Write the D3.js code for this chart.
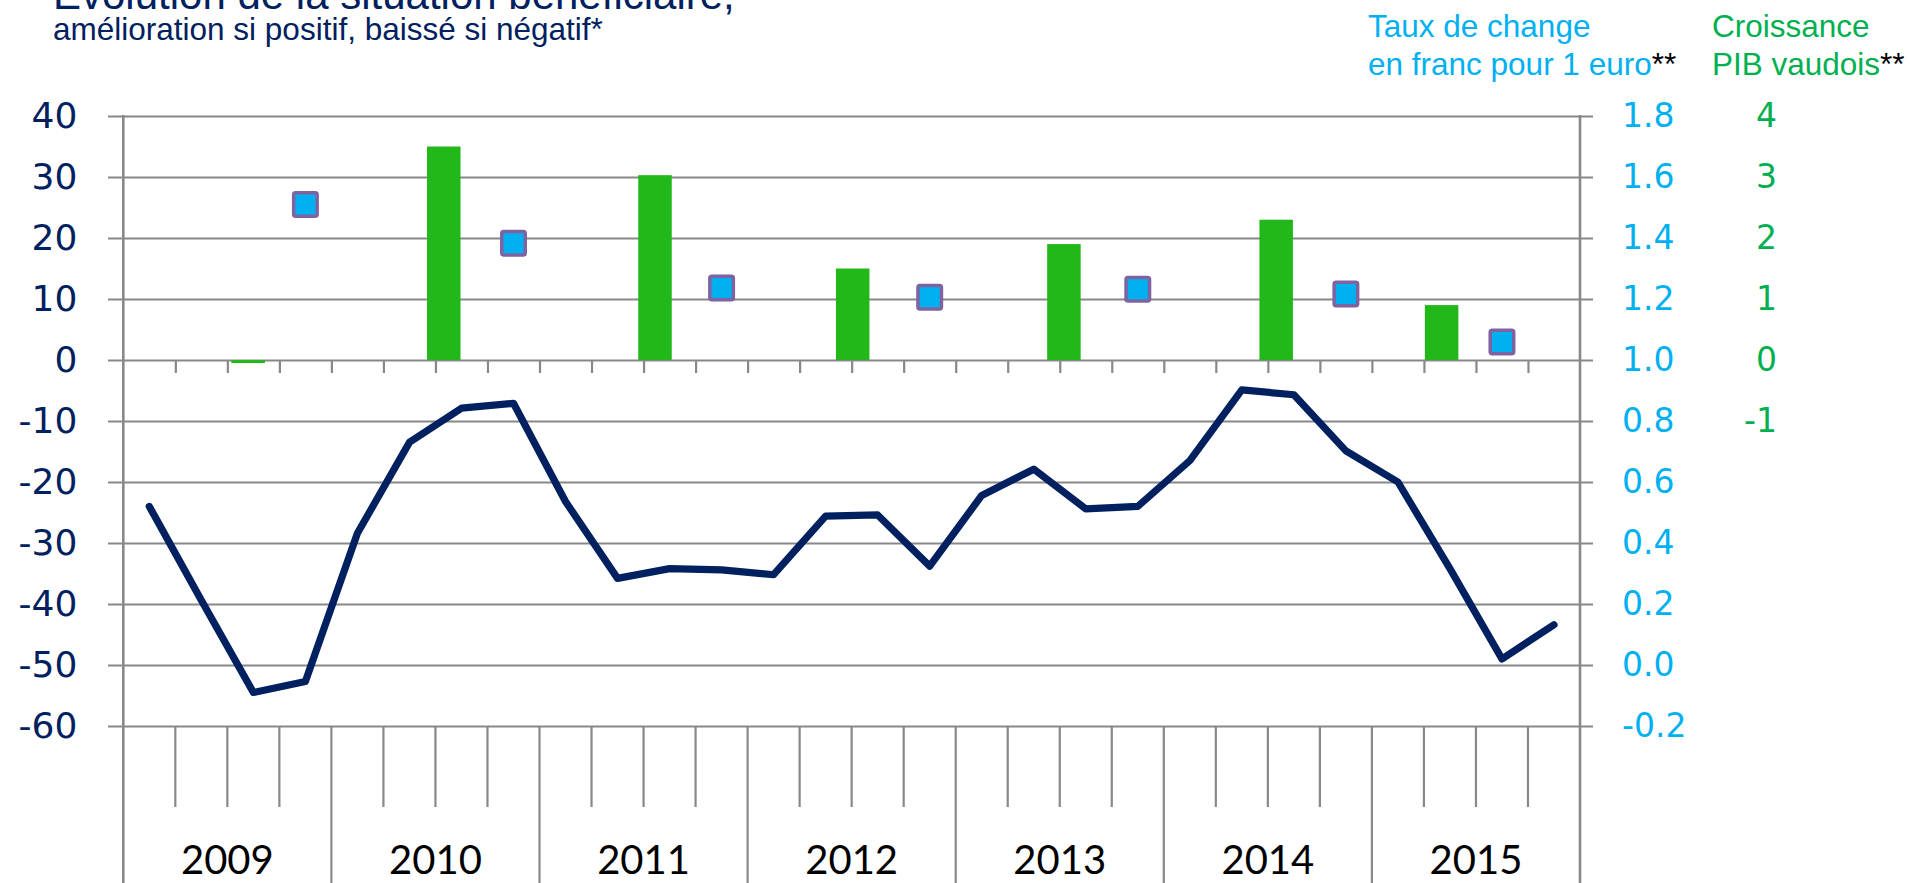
<!DOCTYPE html>
<html>
<head>
<meta charset="utf-8">
<script src="https://cdn.jsdelivr.net/npm/d3@7"></script>
<style>
  html, body { margin: 0; padding: 0; background: #fff; }
  svg { display: block; }
</style>
</head>
<body>
<svg id="chart" width="1910" height="883"></svg>
<script>
// ---------- DATA ----------
const years = [2009, 2010, 2011, 2012, 2013, 2014, 2015];
const quarters = ["T1", "T2", "T3", "T4"];
// Evolution de la situation bénéficiaire (solde, quarterly)
const resultValues = [
  -24.0, -39.4, -54.5, -52.7,
  -28.4, -13.5,  -7.9,  -7.1,
  -23.2, -35.8, -34.2, -34.4,
  -35.2, -25.6, -25.4, -33.8,
  -22.2, -17.9, -24.4, -24.0,
  -16.5,  -4.9,  -5.7, -14.9,
  -20.0, -34.2, -49.0, -43.4
];
// Taux de change CHF pour 1 EUR
const fxQuarter = ["2009-T4", "2010-T4", "2011-T4", "2012-T4", "2013-T4", "2014-T4", "2015-T3"];
const fxValues = [1.51, 1.383, 1.236, 1.206, 1.232, 1.216, 1.059];
// Croissance PIB vaudois (%), placed at fractional year positions
const gdpPosition = [2009.60, 2010.54, 2011.555, 2012.505, 2013.52, 2014.54, 2015.335];
const gdpValues = [-0.05, 3.5, 3.03, 1.5, 1.9, 2.3, 0.9];
// Tick labels
const leftTicks = [-60, -50, -40, -30, -20, -10, 0, 10, 20, 30, 40];
const fxTicks = [-0.2, 0.0, 0.2, 0.4, 0.6, 0.8, 1.0, 1.2, 1.4, 1.6, 1.8];
const gdpTicks = [-1, 0, 1, 2, 3, 4];

// ---------- LAYOUT ----------
const svg = d3.select("#chart");
const x0 = 123.3, x1 = 1580, yTop = 116, yBot = 726;
const gridColor = "#888888";
const navy = "#002060", blue = "#00B0F0", green = "#00B050", barGreen = "#22B81A";
const tickFont = "'DejaVu Sans', Verdana, sans-serif";
const arial = "'Liberation Sans', Arial, sans-serif";
const hy = f => (d => f(d).replace("\u2212", "-"));

const quarterKeys = years.flatMap(y => quarters.map(q => `${y}-${q}`));
const xBand = d3.scaleBand().domain(quarterKeys).range([x0, x1]).padding(0);
const xTime = d3.scaleLinear().domain([years[0], years[years.length - 1] + 1]).range([x0, x1]);
const yL = d3.scaleLinear().domain([-60, 40]).range([yBot, yTop]);
const yFx = d3.scaleLinear().domain([-0.2, 1.8]).range([yBot, yTop]);
const yG = d3.scaleLinear().domain([-6, 4]).range([yBot, yTop]);

// ---------- GRIDLINES ----------
const grid = svg.append("g").attr("transform", `translate(108,0)`)
  .call(d3.axisRight(yL).tickValues(leftTicks).tickSize(1593 - 108).tickFormat(""));
grid.select(".domain").remove();
grid.selectAll("line").attr("stroke", gridColor).attr("stroke-width", 2.2);

// vertical axis lines
[x0, x1].forEach(x => {
  svg.append("line").attr("x1", x).attr("x2", x).attr("y1", yTop - 1).attr("y2", 883)
    .attr("stroke", gridColor).attr("stroke-width", 2.6);
});

// quarter ticks on zero line
const qBounds = d3.range(1, quarterKeys.length).map(k => xBand(quarterKeys[k]));
const zeroAxis = svg.append("g").attr("transform", `translate(0,${yL(0)})`)
  .call(d3.axisBottom(xTime).tickValues(qBounds.map(v => xTime.invert(v))).tickSize(13).tickSizeOuter(0).tickFormat(""));
zeroAxis.select(".domain").remove();
zeroAxis.selectAll("line").attr("stroke", gridColor).attr("stroke-width", 2.2);

// lower category area lines
const lower = svg.append("g");
qBounds.forEach((x, i) => {
  const isYear = (i + 1) % 4 === 0;
  lower.append("line").attr("x1", x).attr("x2", x)
    .attr("y1", yBot).attr("y2", isYear ? 883 : 807)
    .attr("stroke", gridColor).attr("stroke-width", 2.2);
});

// year labels
svg.append("g").selectAll("text").data(years).join("text")
  .attr("x", d => xTime(d + 0.5)).attr("y", 874)
  .attr("text-anchor", "middle")
  .attr("font-family", "Lato, 'Open Sans', sans-serif").attr("font-size", 40)
  .attr("fill", "#000").text(d => d);

// ---------- LEFT AXIS LABELS ----------
const la = svg.append("g").attr("transform", `translate(${x0},0)`)
  .call(d3.axisLeft(yL).tickValues(leftTicks).tickSize(0).tickPadding(46).tickFormat(hy(d3.format("d"))));
la.select(".domain").remove();
la.selectAll("text").attr("font-family", tickFont).attr("font-size", 36).attr("fill", navy);

// ---------- RIGHT AXES ----------
const ra = svg.append("g").attr("transform", `translate(${x1},0)`)
  .call(d3.axisRight(yFx).tickValues(fxTicks).tickSize(0).tickPadding(42).tickFormat(hy(d3.format(".1f"))));
ra.select(".domain").remove();
ra.selectAll("text").attr("font-family", tickFont).attr("font-size", 33).attr("fill", blue);

const ga = svg.append("g").attr("transform", `translate(1777,0)`)
  .call(d3.axisLeft(yG).tickValues(gdpTicks).tickSize(0).tickPadding(0).tickFormat(hy(d3.format("d"))));
ga.select(".domain").remove();
ga.selectAll("text").attr("font-family", tickFont).attr("font-size", 33).attr("fill", green);

// ---------- BARS ----------
const barW = 33.5;
svg.append("g").selectAll("rect").data(gdpValues).join("rect")
  .attr("x", (d, i) => xTime(gdpPosition[i]) - barW / 2)
  .attr("y", d => Math.min(yG(d), yG(0)))
  .attr("width", barW)
  .attr("height", d => Math.max(2, Math.abs(yG(d) - yG(0))))
  .attr("fill", barGreen);

// ---------- LINE ----------
const line = d3.line()
  .x((d, i) => xBand(quarterKeys[i]) + xBand.bandwidth() / 2)
  .y(d => yL(d));
svg.append("path").datum(resultValues)
  .attr("d", line).attr("fill", "none")
  .attr("stroke", navy).attr("stroke-width", 7.2)
  .attr("stroke-linejoin", "round").attr("stroke-linecap", "round");

// ---------- SQUARES ----------
const sq = 23.5;
svg.append("g").selectAll("rect").data(fxValues).join("rect")
  .attr("x", (d, i) => xBand(fxQuarter[i]) + xBand.bandwidth() / 2 - sq / 2)
  .attr("y", d => yFx(d) - sq / 2)
  .attr("width", sq).attr("height", sq).attr("rx", 2)
  .attr("fill", blue).attr("stroke", "#7F63A1").attr("stroke-width", 3.5);

// ---------- TITLES ----------
svg.append("text").attr("x", 53).attr("y", 9)
  .attr("font-family", arial).attr("font-size", 42).attr("fill", navy)
  .text("Évolution de la situation bénéficiaire,");
svg.append("text").attr("x", 53).attr("y", 40)
  .attr("font-family", arial).attr("font-size", 31.5).attr("fill", navy)
  .text("amélioration si positif, baissé si négatif*");

// legend headers
const lg1 = svg.append("g").attr("font-family", arial).attr("font-size", 31.5);
lg1.append("text").attr("x", 1368).attr("y", 37).attr("fill", blue).text("Taux de change");
const t2 = lg1.append("text").attr("x", 1368).attr("y", 75).attr("fill", blue);
t2.append("tspan").text("en franc pour 1 euro");
t2.append("tspan").attr("fill", "#000").text("**");
lg1.append("text").attr("x", 1712).attr("y", 37).attr("fill", green).text("Croissance");
const t4 = lg1.append("text").attr("x", 1712).attr("y", 75).attr("fill", green);
t4.append("tspan").text("PIB vaudois");
t4.append("tspan").attr("fill", "#000").text("**");
</script>
</body>
</html>
